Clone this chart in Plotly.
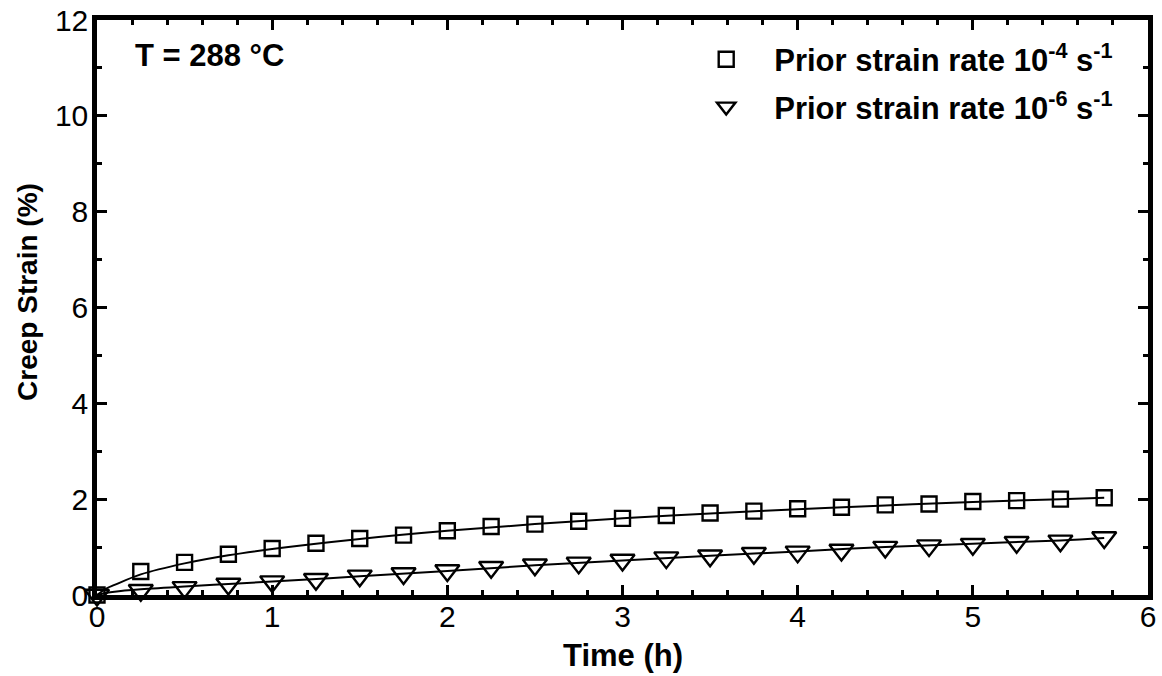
import plotly.graph_objects as go

# Data
time_h = [0, 0.25, 0.5, 0.75, 1.0, 1.25, 1.5, 1.75, 2.0, 2.25, 2.5, 2.75, 3.0,
          3.25, 3.5, 3.75, 4.0, 4.25, 4.5, 4.75, 5.0, 5.25, 5.5, 5.75]
strain_1e4 = [0, 0.49, 0.68, 0.85, 0.97, 1.08, 1.18, 1.25, 1.34, 1.43, 1.48, 1.54, 1.60,
              1.66, 1.71, 1.75, 1.80, 1.83, 1.88, 1.90, 1.95, 1.97, 2.00, 2.03]
strain_1e6 = [0, 0.10, 0.16, 0.23, 0.28, 0.33, 0.40, 0.45, 0.51, 0.58, 0.63, 0.67, 0.73,
              0.78, 0.82, 0.87, 0.90, 0.94, 1.00, 1.03, 1.06, 1.10, 1.13, 1.20]

# Fitted curves
fit_t = [0, 0.05, 0.1, 0.25, 0.5, 0.75, 1.0, 1.5, 2.0, 2.5, 3.0, 3.5, 4.0, 4.5, 5.0, 5.5, 5.75]
fit_1e4 = [0, 0.13, 0.21, 0.43, 0.66, 0.83, 0.96, 1.17, 1.34, 1.48, 1.60, 1.70, 1.79, 1.87, 1.94, 2.00, 2.03]
fit_1e6 = [0, 0.04, 0.07, 0.12, 0.18, 0.23, 0.28, 0.39, 0.50, 0.62, 0.72, 0.82, 0.91, 1.00, 1.07, 1.14, 1.19]

labels = ["<b>Prior strain rate 10<sup>-4</sup> s<sup>-1</sup></b>",
          "<b>Prior strain rate 10<sup>-6</sup> s<sup>-1</sup></b>"]

FONT = "Liberation Sans, Arial, sans-serif"

fig = go.Figure()
fig.add_trace(go.Scatter(x=fit_t, y=fit_1e4, mode="lines", line=dict(color="black", width=2),
                         showlegend=False, line_shape="spline", cliponaxis=False))
fig.add_trace(go.Scatter(x=fit_t, y=fit_1e6, mode="lines", line=dict(color="black", width=2),
                         showlegend=False, line_shape="spline", cliponaxis=False))
fig.add_trace(go.Scatter(x=time_h, y=strain_1e4, mode="markers", name=labels[0], legendgroup="a",
                         marker=dict(symbol="square-open", size=15, color="black", line=dict(width=2.4)),
                         cliponaxis=False))
fig.add_trace(go.Scatter(x=time_h, y=strain_1e6, mode="markers", name=labels[1], legendgroup="b",
                         marker=dict(symbol="triangle-down-open", size=21, color="black", line=dict(width=2.4)),
                         cliponaxis=False))

axis_common = dict(showline=True, linewidth=4.5, linecolor="black", mirror="allticks",
                   ticks="inside", ticklen=10, tickwidth=3, tickcolor="black",
                   showgrid=False, zeroline=False, automargin=False,
                   ticklabeloverflow="allow",
                   tickfont=dict(family=FONT, size=30, color="black"))

fig.update_xaxes(range=[0, 6], dtick=1, tick0=0, ticklabelstandoff=-9,
                 minor=dict(ticks="inside", ticklen=5, tickwidth=3, dtick=0.2, tickcolor="black"),
                 **axis_common)
fig.update_yaxes(range=[0, 12], dtick=2, tick0=0, ticklabelstandoff=-2,
                 minor=dict(ticks="inside", ticklen=5, tickwidth=3, dtick=1, tickcolor="black"),
                 **axis_common)

fig.add_annotation(x=0.034, y=0.939, xref="paper", yref="paper", xanchor="left", yanchor="middle",
                   text="<b>T = 288 °C</b>", showarrow=False,
                   font=dict(family=FONT, size=31, color="black"))
fig.add_annotation(x=0.5, y=-0.106, xref="paper", yref="paper", xanchor="center", yanchor="middle",
                   text="<b>Time (h)</b>", showarrow=False,
                   font=dict(family=FONT, size=31, color="black"))
fig.add_annotation(x=-0.0657, y=0.527, xref="paper", yref="paper", xanchor="center", yanchor="middle",
                   text="<b>Creep Strain (%)</b>", showarrow=False, textangle=-90,
                   font=dict(family=FONT, size=28, color="black"))

fig.update_layout(
    width=1162, height=676,
    margin=dict(l=97, r=14, t=20, b=81),
    paper_bgcolor="white", plot_bgcolor="white",
    font=dict(family=FONT, color="black"),
    hovermode=False,
    legend=dict(x=0.553, y=0.978, xanchor="left", yanchor="top", bgcolor="rgba(0,0,0,0)",
                font=dict(family=FONT, size=31, color="black"),
                traceorder="grouped", tracegroupgap=4, itemwidth=86),
)

# Remove the page's default body margin so the figure fills the window exactly.
fig.write_html("out.html", config={"displayModeBar": False},
               post_script="document.body.style.margin='0';document.body.style.overflow='hidden';")
